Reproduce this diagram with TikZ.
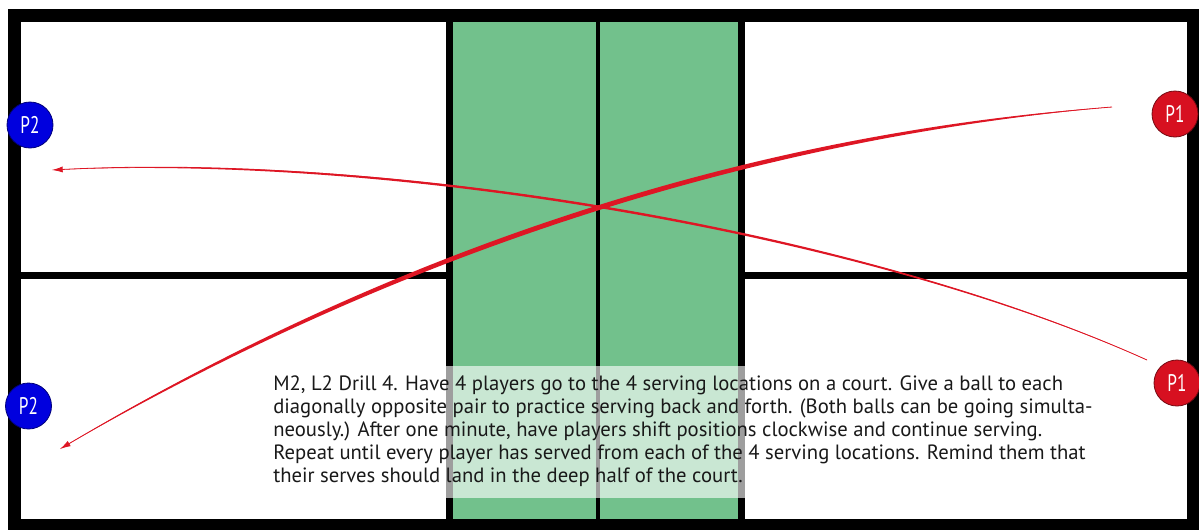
\documentclass[tikz,border=0pt]{standalone}
\usepackage{fontspec}
\setmainfont{PT Sans}
\usetikzlibrary{arrows.meta}
\definecolor{kitchen}{RGB}{114,193,140}
\definecolor{ballred}{RGB}{222,22,36}
\definecolor{pred}{RGB}{215,16,32}
\definecolor{pblue}{RGB}{0,0,222}
\tikzset{
  courtline/.style={line width=5.25pt, black},
  netline/.style={line width=3pt, black},
  border/.style={line width=9.75pt, black},
  player/.style={circle, minimum size=34.5pt, inner sep=0pt, draw=#1!55!black, line width=0.6pt, fill=#1, text=white, font=\fontsize{18pt}{18pt}\selectfont},
  serve/.style={draw=ballred, fill=none, line width=0.6pt, -{Latex[length=8pt,width=4.5pt]}},
  taper/.style={fill=ballred, draw=none},
  note/.style={align=left, anchor=north west, inner sep=0pt, font=\fontsize{15.5pt}{17.25pt}\selectfont, text=black!90}
}
\begin{document}
\begin{tikzpicture}[x=0.75pt,y=-0.75pt]
\useasboundingbox (0,0) rectangle (1199,529);
\fill[white] (0,0) rectangle (1199,529);
% kitchen
\fill[kitchen] (449.5,22) rectangle (741.5,522);
\draw[courtline] (449.5,15) -- (449.5,526);
\draw[courtline] (741.5,15) -- (741.5,526);
\draw[netline] (598,15) -- (598,526);
\draw[courtline] (14,275) -- (449.5,275);
\draw[courtline] (741.5,275) -- (1193,275);
% border
\draw[border] (14,15.5) rectangle (1193,525.5);
% connectors
\coordinate (s1) at (1112,107);
\coordinate (e1) at (60,449);
\coordinate (s2) at (1147,360);
\coordinate (e2) at (52,170);
\fill[taper] (s1) .. controls (759,131.9) and (399,244.9) .. (e1)
             .. controls (401,251.1) and (761,138.1) .. (s1) -- cycle;
\draw[serve] (s1) .. controls (760,135) and (400,248) .. (e1);
\fill[taper] (s2) .. controls (870.3,236.7) and (400.3,153.7) .. (e2)
             .. controls (399.7,150.3) and (869.7,233.3) .. (s2) -- cycle;
\draw[serve] (s2) .. controls (870,235) and (400,152) .. (e2);
% players
\node[player=pblue] (p2a) at (30,125) {\scalebox{0.72}[1]{P2}};
\node[player=pblue] (p2b) at (28.5,406) {\scalebox{0.72}[1]{P2}};
\node[player=pred] (p1a) at (1175,114) {\scalebox{0.72}[1]{P1}};
\node[player=pred] (p1b) at (1177,383) {\scalebox{0.72}[1]{P1}};
% note
\fill[white, opacity=0.62] (267,366) rectangle (1110,498);
\node[note] (txt) at (273,376) {M2, L2 Drill 4. Have 4 players go to the 4 serving locations on a court. Give a ball to each\\
diagonally opposite pair to practice serving back and forth. (Both balls can be going simulta-\\
neously.) After one minute, have players shift positions clockwise and continue serving.\\
Repeat until every player has served from each of the 4 serving locations. Remind them that\\
their serves should land in the deep half of the court.};
\end{tikzpicture}
\end{document}
